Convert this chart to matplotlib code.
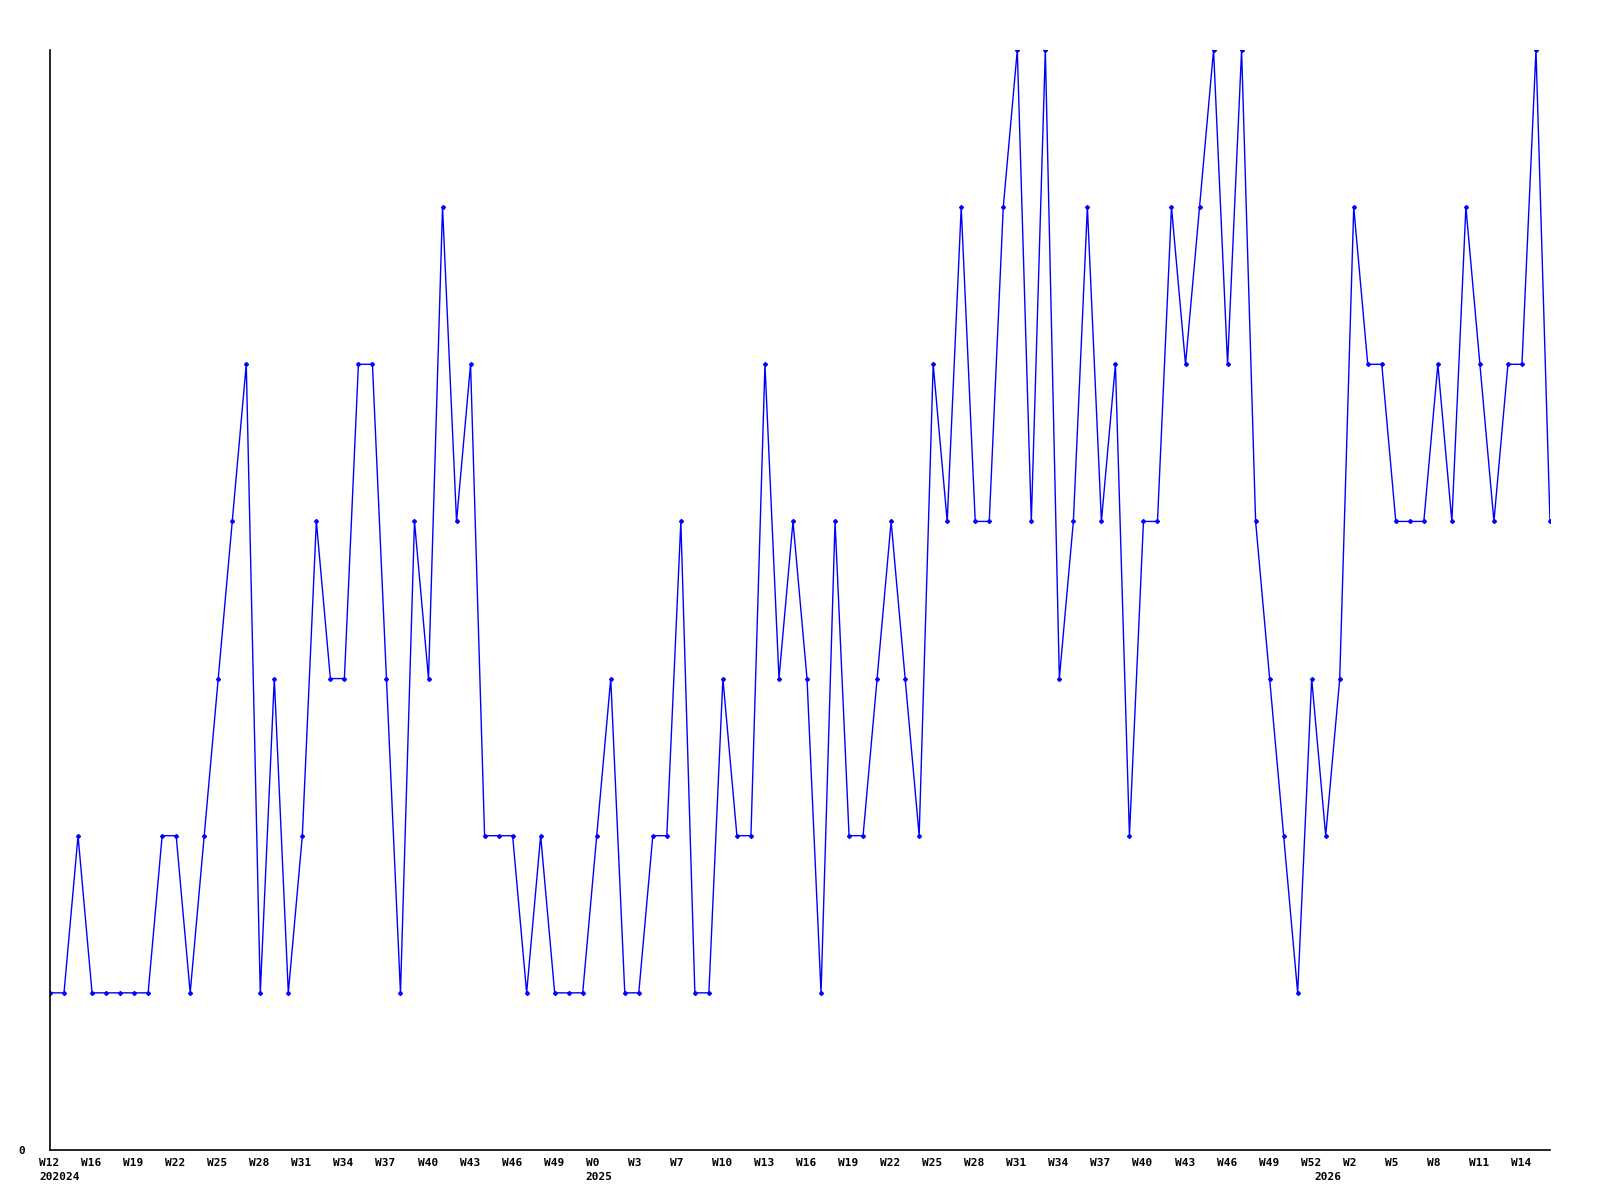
import matplotlib
matplotlib.use("Agg")
import matplotlib.pyplot as plt
import matplotlib.transforms as mtrans

# weekly counts, one per week
values = [1, 1, 2, 1, 1, 1, 1, 1, 2, 2, 1, 2, 3, 4, 5, 1, 3, 1, 2, 4,
          3, 3, 5, 5, 3, 1, 4, 3, 6, 4, 5, 2, 2, 2, 1, 2, 1, 1, 1, 2,
          3, 1, 1, 2, 2, 4, 1, 1, 3, 2, 2, 5, 3, 4, 3, 1, 4, 2, 2, 3,
          4, 3, 2, 5, 4, 6, 4, 4, 6, 7, 4, 7, 3, 4, 6, 4, 5, 2, 4, 4,
          6, 5, 6, 7, 5, 7, 4, 3, 2, 1, 3, 2, 3, 6, 5, 5, 4, 4, 4, 5,
          4, 6, 5, 4, 5, 5, 7, 4]

week_labels = ["W12", "W16", "W19", "W22", "W25", "W28", "W31", "W34", "W37",
               "W40", "W43", "W46", "W49", "W0", "W3", "W7", "W10", "W13",
               "W16", "W19", "W22", "W25", "W28", "W31", "W34", "W37", "W40",
               "W43", "W46", "W49", "W52", "W2", "W5", "W8", "W11", "W14"]
week_pos = [3 * k for k in range(len(week_labels))]

year_labels = ["202024", "2025", "2026"]
year_pos = [0, 39, 91]

x = list(range(len(values)))

fig = plt.figure(figsize=(16, 12), dpi=100)
ax = fig.add_axes([50 / 1600, 50 / 1200, 1500 / 1600, 1100 / 1200])

ax.plot(x, values, color="#0000ff", linewidth=1, marker="D", markersize=2,
        markerfacecolor="#0000ff", markeredgecolor="#0000ff")

ax.set_xlim(0, len(values) - 1)
ax.set_ylim(0, 7)

for s in ["top", "right"]:
    ax.spines[s].set_visible(False)
for s in ["left", "bottom"]:
    ax.spines[s].set_color("black")
    ax.spines[s].set_linewidth(1.2)

font = dict(family="DejaVu Sans Mono", weight="bold", size=8)

ax.set_yticks([0], ["0"], **font)
ax.tick_params(axis="y", length=0, pad=18)

# keep the year labels even where they fall on a week tick
ax.xaxis.remove_overlapping_locs = False
ax.set_xticks(week_pos, week_labels, **font)
ax.set_xticks(year_pos, year_labels, minor=True, **font)
ax.tick_params(axis="x", which="major", length=0, pad=6)
ax.tick_params(axis="x", which="minor", length=0, pad=16)

shift = mtrans.ScaledTranslation(-11 / 100, 0, fig.dpi_scale_trans)
for lab in ax.get_xticklabels(which="both"):
    lab.set_horizontalalignment("left")
    lab.set_transform(lab.get_transform() + shift)

fig.savefig("out.png", dpi=100)
